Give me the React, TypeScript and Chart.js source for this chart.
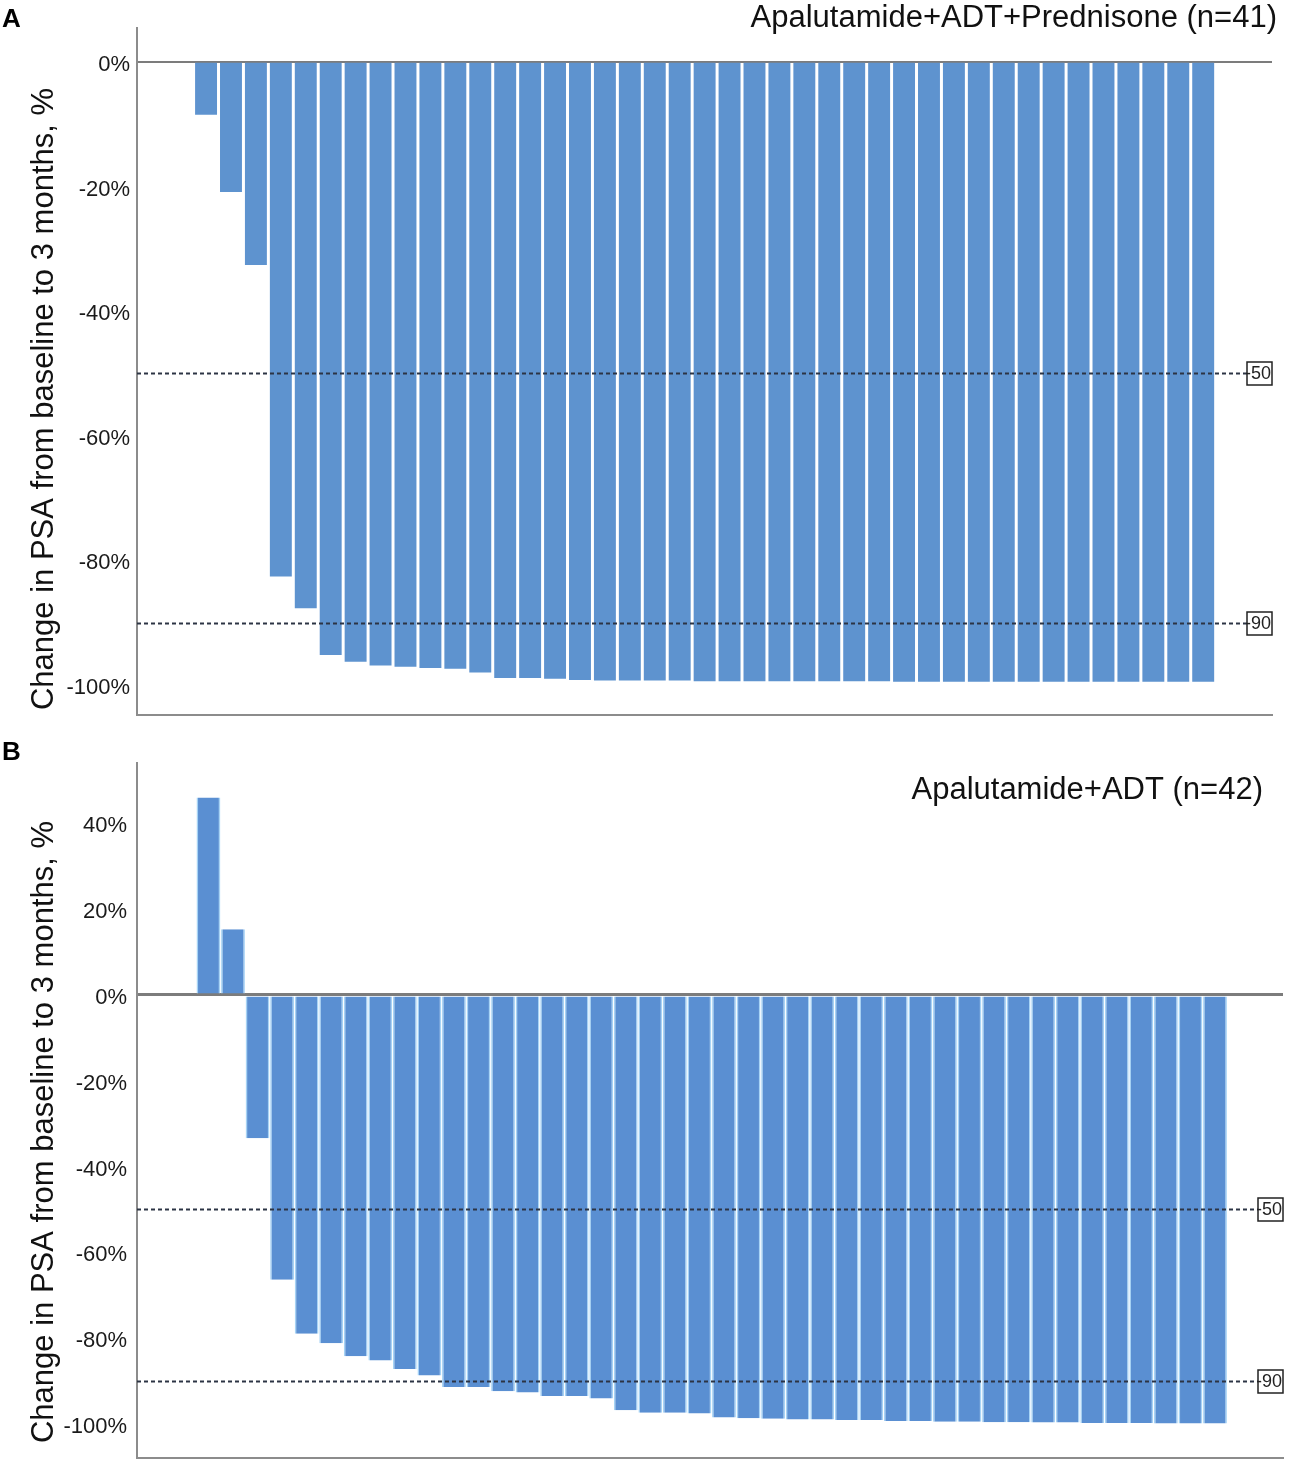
import React, { useEffect, useRef } from "react";
import Chart from "chart.js/auto";

Chart.defaults.font.family = "'Liberation Sans', Arial, Helvetica, sans-serif";

// percent change in PSA per patient, sorted (waterfall)
const PSA_CHANGE_A = [
  -8.5, -20.9, -32.6, -82.6, -87.7, -95.2, -96.3, -96.9, -97.1, -97.3,
  -97.4, -98.0, -98.9, -98.9, -99.0, -99.2, -99.3, -99.3, -99.3, -99.3,
  -99.4, -99.4, -99.4, -99.4, -99.4, -99.4, -99.4, -99.4, -99.5, -99.5,
  -99.5, -99.5, -99.5, -99.5, -99.5, -99.5, -99.5, -99.5, -99.5, -99.5,
  -99.5,
];
const PSA_CHANGE_B = [
  46.0, 15.3, -33.4, -66.4, -79.0, -81.2, -84.2, -85.2, -87.2, -88.7,
  -91.4, -91.4, -92.4, -92.7, -93.5, -93.5, -94.1, -96.8, -97.4, -97.4,
  -97.6, -98.5, -98.7, -98.8, -99.0, -99.0, -99.1, -99.1, -99.3, -99.3,
  -99.5, -99.5, -99.6, -99.6, -99.7, -99.7, -99.8, -99.8, -99.8, -99.9,
  -99.9, -99.9,
];
const Y_TICKS_A = [0, -20, -40, -60, -80, -100];
const Y_TICKS_B = [40, 20, 0, -20, -40, -60, -80, -100];
const REF_LINES = [-50, -90];
const TITLE_A = "Apalutamide+ADT+Prednisone (n=41)";
const TITLE_B = "Apalutamide+ADT (n=42)";
const Y_TITLE = "Change in PSA from baseline to 3 months, %";

type Panel = {
  values: number[];
  yTicks: number[];
  yMin: number;
  yMax: number;
  xMin: number;
  xMax: number;
  top: number;
  height: number;
  padRight: number;
  padTop: number;
  padBottom: number;
  tickPad: number;
  barColor: string;
  barBorder: string;
  barBorderWidth: number;
  barPct: number;
  zeroWidth: number;
  letter: string;
  letterBase: number;
  title: string;
  titleRight: number;
  titleBase: number;
  yTitleCenter: number;
};

const PANELS: Panel[] = [
  {
    values: PSA_CHANGE_A,
    yTicks: Y_TICKS_A,
    yMin: -104.8,
    yMax: 5.43,
    xMin: -1.77,
    xMax: 43.76,
    top: 0,
    height: 735,
    padRight: 22,
    padTop: 28,
    padBottom: 17,
    tickPad: 7,
    barColor: "#5e93cf",
    barBorder: "#5e93cf",
    barBorderWidth: 0,
    barPct: 0.88,
    zeroWidth: 2,
    letter: "A",
    letterBase: 27,
    title: TITLE_A,
    titleRight: 1277,
    titleBase: 27,
    yTitleCenter: 399,
  },
  {
    values: PSA_CHANGE_B,
    yTicks: Y_TICKS_B,
    yMin: -107.9,
    yMax: 54.06,
    xMin: -1.91,
    xMax: 44.77,
    top: 735,
    height: 746,
    padRight: 11,
    padTop: 28,
    padBottom: 20,
    tickPad: 10,
    barColor: "#5a8fd2",
    barBorder: "#a6d3f5",
    barBorderWidth: 1.5,
    barPct: 0.97,
    zeroWidth: 3,
    letter: "B",
    letterBase: 25,
    title: TITLE_B,
    titleRight: 1263,
    titleBase: 64,
    yTitleCenter: 397,
  },
];

function makeDecor(p: Panel) {
  return {
    id: "panelDecor",
    afterDatasetsDraw(chart: any) {
      const { ctx, chartArea, scales } = chart;
      ctx.save();
      for (const v of REF_LINES) {
        const py = Math.round(scales.y.getPixelForValue(v)) + 0.5;
        const boxW = 25;
        const boxH = 23;
        const boxLeft = chartArea.right - boxW;
        ctx.setLineDash([4, 3]);
        ctx.strokeStyle = "#2c3444";
        ctx.lineWidth = 1.8;
        ctx.beginPath();
        ctx.moveTo(chartArea.left, py);
        ctx.lineTo(boxLeft, py);
        ctx.stroke();
        ctx.setLineDash([]);
        ctx.fillStyle = "#ffffff";
        ctx.fillRect(boxLeft, py - boxH / 2, boxW, boxH);
        ctx.save();
        ctx.beginPath();
        ctx.rect(boxLeft, py - boxH / 2, boxW, boxH);
        ctx.clip();
        ctx.fillStyle = "#222";
        ctx.font = "18px 'Liberation Sans', Arial, sans-serif";
        ctx.textAlign = "left";
        ctx.textBaseline = "middle";
        ctx.fillText(String(v), boxLeft - 2, py + 1);
        ctx.restore();
        ctx.strokeStyle = "#222";
        ctx.lineWidth = 1.5;
        ctx.strokeRect(boxLeft, py - boxH / 2, boxW, boxH);
      }
      ctx.restore();
    },
    afterDraw(chart: any) {
      const { ctx } = chart;
      ctx.save();
      ctx.fillStyle = "#000";
      ctx.textBaseline = "alphabetic";
      ctx.font = "bold 26px 'Liberation Sans', Arial, sans-serif";
      ctx.textAlign = "left";
      ctx.fillText(p.letter, 2, p.letterBase);

      ctx.fillStyle = "#111";
      ctx.font = "31px 'Liberation Sans', Arial, sans-serif";
      ctx.textAlign = "right";
      ctx.fillText(p.title, p.titleRight, p.titleBase);

      ctx.translate(53, p.yTitleCenter);
      ctx.rotate(-Math.PI / 2);
      ctx.textAlign = "center";
      ctx.fillText(Y_TITLE, 0, 0);
      ctx.restore();
    },
  };
}

function WaterfallPanel({ p }: { p: Panel }) {
  const canvasRef = useRef<HTMLCanvasElement | null>(null);

  useEffect(() => {
    const el = canvasRef.current;
    if (!el) return;
    const chart = new Chart(el, {
      type: "bar",
      data: {
        datasets: [
          {
            data: p.values.map((v, i) => ({ x: i + 1, y: v })),
            backgroundColor: p.barColor,
            borderColor: p.barBorder,
            borderWidth: { left: p.barBorderWidth, right: p.barBorderWidth, top: 0, bottom: 0 },
            borderSkipped: "start",
            barPercentage: p.barPct,
            categoryPercentage: 1,
          },
        ],
      },
      options: {
        animation: false,
        responsive: true,
        maintainAspectRatio: false,
        events: [],
        layout: {
          padding: { left: 0, right: p.padRight, top: p.padTop, bottom: p.padBottom },
        },
        plugins: {
          legend: { display: false },
          tooltip: { enabled: false },
          title: { display: false },
        },
        scales: {
          x: {
            type: "linear",
            min: p.xMin,
            max: p.xMax,
            offset: false,
            ticks: { display: false },
            grid: { display: false, drawTicks: false },
            border: { display: true, color: "#8c8c8c", width: 2 },
            afterFit: (s: any) => {
              s.height = 0;
            },
          },
          y: {
            min: p.yMin,
            max: p.yMax,
            afterBuildTicks: (s: any) => {
              s.ticks = p.yTicks.map((v) => ({ value: v }));
            },
            afterFit: (s: any) => {
              s.width = 137;
            },
            ticks: {
              padding: p.tickPad,
              labelOffset: 3,
              color: "#1a1a1a",
              font: { size: 22 },
              callback: (v: any) => v + "%",
            },
            grid: {
              drawTicks: false,
              color: (c: any) => (c.tick && c.tick.value === 0 ? "#7c7c7c" : "rgba(0,0,0,0)"),
              lineWidth: (c: any) => (c.tick && c.tick.value === 0 ? p.zeroWidth : 0),
            },
            border: { display: true, color: "#8c8c8c", width: 2 },
          },
        },
      },
      plugins: [makeDecor(p)],
    } as any);
    return () => chart.destroy();
  }, [p]);

  return (
    <div style={{ position: "absolute", left: 0, top: p.top, width: 1294, height: p.height }}>
      <canvas ref={canvasRef} />
    </div>
  );
}

export default function App() {
  return (
    <div
      style={{
        position: "absolute",
        left: 0,
        top: 0,
        width: 1294,
        height: 1481,
        background: "#ffffff",
      }}
    >
      {PANELS.map((p) => (
        <WaterfallPanel key={p.letter} p={p} />
      ))}
    </div>
  );
}
